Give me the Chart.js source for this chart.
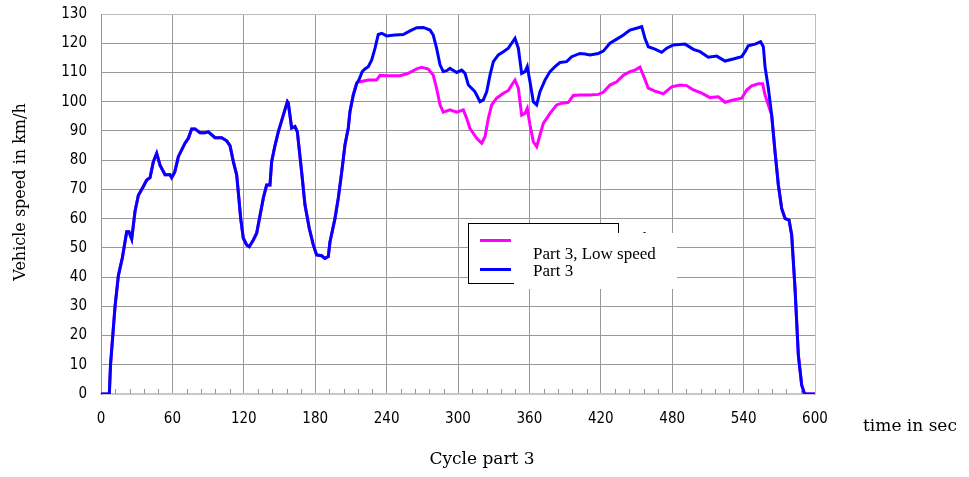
<!DOCTYPE html>
<html>
<head>
<meta charset="utf-8">
<script src="https://cdn.jsdelivr.net/npm/chart.js@4/dist/chart.umd.min.js"></script>
<style>
  html, body { margin: 0; padding: 0; background: #fff; }
  #wrap { width: 969px; height: 477px; }
</style>
</head>
<body>
<div id="wrap"><canvas id="cycleChart" width="969" height="477"></canvas></div>
<script>
// Eixos
const xTicks = [0, 60, 120, 180, 240, 300, 360, 420, 480, 540, 600];
const yTicks = [0, 10, 20, 30, 40, 50, 60, 70, 80, 90, 100, 110, 120, 130];

// Trecho comum às duas curvas (início)
const startTime = [0, 7, 8, 11.8, 14.6, 17.9, 21.6, 23.5, 25.8, 28.6, 31.4, 35.6, 38.4, 41.2, 44, 46.8, 49.6, 53.8, 58, 59.4, 62, 65, 70.6, 73.4, 76.2, 79, 83.2, 87.4, 90.2, 95.8, 101.4, 105.6, 108.4, 111.2, 114, 115.4, 117.4, 119.6, 122.4, 124.6, 128, 130.8, 133.6, 136.4, 139.2, 142, 143.4, 146.2, 149, 153.2, 156.6, 157.4, 160.2, 163, 165, 168.6, 171.4, 175, 178.4, 181.2, 185.4, 188.2, 191, 192.4, 196.6, 199.4, 202.3, 205, 207.8, 209.2, 212, 214.9, 216.5];
const startSpeed = [0, 0, 10, 30, 40.5, 46.5, 55.5, 55.5, 53, 62.5, 68, 71, 73.2, 74, 79.5, 82.3, 78.3, 75, 75, 74, 76, 81.2, 85.8, 87.5, 90.7, 90.7, 89.4, 89.4, 89.7, 87.7, 87.7, 86.6, 85, 79.5, 75, 69, 60, 53.3, 51, 50.4, 52.7, 55, 61, 67, 71.5, 71.5, 79.5, 85, 89.7, 95.4, 100, 99.5, 91, 91.5, 89.7, 76, 64.7, 56.7, 51, 47.6, 47.3, 46.4, 47, 52, 60, 67, 76, 85.2, 91, 96.6, 102.3, 106.3, 107.2];

// Part 3 (azul)
const part3Time = [219.5, 221.8, 224.6, 227.5, 230.3, 233, 235.9, 240, 247, 254, 259.7, 265.3, 270.9, 276.5, 279.2, 282, 284.9, 287.6, 290.5, 293.3, 298.9, 303.1, 305.9, 308.7, 312.9, 314.3, 318.5, 321.3, 324.1, 326.9, 329.7, 333.9, 338.1, 342.3, 345.1, 347.9, 350.7, 353.5, 356.3, 358.2, 360.5, 363.3, 366.1, 368.9, 373.1, 377.3, 381.5, 385.7, 391.3, 395.5, 402.5, 406.7, 410.9, 417.9, 422.1, 427.7, 433.4, 439, 444.5, 451.5, 454.4, 457.1, 459.9, 465.5, 471.2, 475.4, 481, 490.8, 497.8, 503.4, 510.3, 517.4, 524.4, 531.3, 538.4, 541.2, 543.9, 549.6, 554.3, 556.6, 558, 560.8];
const part3Speed = [110.3, 111.2, 112, 114.3, 118.3, 123, 123.4, 122.5, 122.8, 123, 124.2, 125.3, 125.4, 124.5, 122.8, 118.3, 112.6, 110.3, 110.6, 111.4, 110, 110.8, 109.7, 105.7, 104, 103.4, 100, 100.6, 103.4, 109.1, 113.7, 116, 117.1, 118.3, 120, 121.7, 118.3, 109.7, 110.3, 112, 106.8, 100, 98.9, 103.4, 107.4, 110.3, 112, 113.4, 113.7, 115.4, 116.5, 116.3, 116, 116.5, 117.3, 120, 121.4, 122.8, 124.5, 125.3, 125.7, 121.7, 118.8, 118, 116.9, 118.3, 119.4, 119.7, 117.9, 117.1, 115.2, 115.6, 113.9, 114.6, 115.4, 117.1, 119.1, 119.7, 120.5, 118.8, 112, 104.6];

// Part 3, Low speed (magenta)
const lowTime = [217.6, 224.6, 231.6, 234.5, 240, 251.3, 258.2, 265.3, 269.5, 275, 279.2, 282, 284.9, 287.6, 293.3, 298.9, 304.5, 307.3, 310, 315.7, 319.9, 322.7, 325.5, 328.3, 332.5, 338.1, 342.3, 345.1, 347.9, 350.7, 353.5, 356.3, 358.2, 360.5, 363.3, 366.1, 368.9, 371.7, 377.3, 382.9, 387.1, 392.7, 396.9, 402.5, 410.9, 417.9, 422.1, 427.7, 433.4, 439, 444.5, 448.7, 452.9, 455.7, 459.9, 465.5, 472.5, 479.5, 486.5, 492.2, 497.8, 504.8, 511.8, 518.8, 524.4, 531.3, 538.4, 542.6, 546.8, 552.4, 556, 558, 560.8];
const lowSpeed = [106.8, 107.4, 107.4, 109, 108.9, 108.9, 109.7, 111.2, 111.8, 111.2, 109.1, 104.6, 98.9, 96.4, 97.2, 96.4, 97.2, 94.3, 90.9, 87.5, 85.8, 88, 94.3, 98.9, 101.2, 102.9, 103.8, 105.7, 107.4, 104.6, 95.4, 96, 97.7, 92, 86.3, 84.6, 88.6, 92.6, 96, 98.9, 99.5, 99.8, 102.1, 102.3, 102.3, 102.5, 103.2, 105.7, 106.8, 109.1, 110.3, 110.8, 111.8, 109.1, 104.6, 103.6, 102.7, 105.1, 105.7, 105.5, 104, 102.9, 101.4, 101.7, 99.8, 100.6, 101.2, 104, 105.4, 106.1, 106.1, 102.3, 98.9];

// Trecho comum (fim)
const endTime = [563.6, 566.4, 569.2, 572, 574.8, 578.2, 580.4, 583.2, 586, 588.8, 590.8, 591.5, 600];
const endSpeed = [95.4, 82.9, 71.5, 63.5, 60.1, 59.5, 54.4, 36.2, 13.3, 3.1, 0.5, 0, 0];

const toPoints = (times, speeds) => times.map((t, i) => ({ x: t, y: speeds[i] }));

const part3Data = [
    ...toPoints(startTime, startSpeed),
    ...toPoints(part3Time, part3Speed),
    ...toPoints(endTime, endSpeed)
];
const lowData = [
    ...toPoints(startTime, startSpeed),
    ...toPoints(lowTime, lowSpeed),
    ...toPoints(endTime, endSpeed)
];

const serif = '"DejaVu Serif", serif';
const legendFont = '"Liberation Serif", serif';
const tickFont = '"Liberation Sans Narrow", "DejaVu Sans Condensed", "Liberation Sans", sans-serif';

// Títulos, marcas menores e legenda desenhados à mão
const extras = {
    id: 'extras',
    afterDraw(chart) {
        const { ctx, chartArea, scales } = chart;
        const xs = scales.x;
        ctx.save();

        // marcas menores a cada 12 s
        ctx.strokeStyle = '#999';
        ctx.lineWidth = 1;
        for (let t = 12; t < 600; t += 12) {
            if (t % 60 === 0) continue;
            const px = Math.round(xs.getPixelForValue(t)) + 0.5;
            ctx.beginPath();
            ctx.moveTo(px, chartArea.bottom);
            ctx.lineTo(px, chartArea.bottom - 5);
            ctx.stroke();
        }

        // títulos dos eixos
        ctx.fillStyle = '#000';
        ctx.font = '17px ' + serif;
        ctx.textBaseline = 'middle';
        ctx.textAlign = 'left';
        ctx.fillText('time in sec', 863, 427);
        ctx.textAlign = 'center';
        ctx.fillText('Cycle part 3', 482, 460);
        ctx.save();
        ctx.font = '16px ' + serif;
        ctx.translate(21, 192);
        ctx.rotate(-Math.PI / 2);
        ctx.fillText('Vehicle speed in km/h', 0, 0);
        ctx.restore();

        // legenda
        ctx.fillStyle = '#fff';
        ctx.fillRect(468, 223, 150, 60);
        ctx.strokeStyle = '#000';
        ctx.lineWidth = 1;
        ctx.strokeRect(468.5, 223.5, 150, 60);
        ctx.font = '17px ' + legendFont;
        ctx.textAlign = 'left';
        ctx.textBaseline = 'alphabetic';
        ctx.fillStyle = '#000';
        ctx.fillText('Part 3, Low speed', 524, 244);

        ctx.lineWidth = 3;
        ctx.strokeStyle = '#ff00ff';
        ctx.beginPath();
        ctx.moveTo(480, 240.5);
        ctx.lineTo(511, 240.5);
        ctx.stroke();
        ctx.strokeStyle = '#0000ff';
        ctx.beginPath();
        ctx.moveTo(480, 269.5);
        ctx.lineTo(511, 269.5);
        ctx.stroke();

        ctx.fillStyle = '#fff';
        ctx.fillRect(514, 233, 163, 56);
        ctx.fillStyle = '#000';
        ctx.fillText('Part 3, Low speed', 533, 259);
        ctx.fillText('Part 3', 533, 276);

        ctx.restore();
    }
};

document.addEventListener('DOMContentLoaded', () => {
    const canvas = document.getElementById('cycleChart');

    new Chart(canvas, {
        type: 'line',
        data: {
            datasets: [
                {
                    label: 'Part 3, Low speed',
                    data: lowData,
                    borderColor: '#ff00ff',
                    borderWidth: 3,
                    pointRadius: 0,
                    tension: 0,
                    order: 1
                },
                {
                    label: 'Part 3',
                    data: part3Data,
                    borderColor: '#0000ff',
                    borderWidth: 3,
                    pointRadius: 0,
                    tension: 0,
                    order: 0
                }
            ]
        },
        options: {
            responsive: false,
            animation: false,
            devicePixelRatio: 1,
            layout: { padding: { left: 0, right: 154, top: 14, bottom: 0 } },
            plugins: {
                legend: { display: false },
                tooltip: { enabled: false }
            },
            scales: {
                x: {
                    type: 'linear',
                    min: 0,
                    max: 600,
                    afterFit: (scale) => {
                        scale.height = 83;
                        scale.paddingLeft = 0;
                        scale.paddingRight = 0;
                    },
                    afterBuildTicks: (scale) => { scale.ticks = xTicks.map(v => ({ value: v })); },
                    ticks: {
                        color: '#000',
                        font: { family: tickFont, size: 15 },
                        padding: 16,
                        maxRotation: 0,
                        autoSkip: false
                    },
                    grid: {
                        drawTicks: false,
                        color: (c) => c.tick && c.tick.value === 600 ? '#bdbdbd' : '#999',
                        lineWidth: 1
                    },
                    border: { color: '#c8c8c8', width: 2 }
                },
                y: {
                    min: 0,
                    max: 130,
                    afterFit: (scale) => {
                        scale.width = 101;
                        scale.paddingTop = 0;
                        scale.paddingBottom = 0;
                    },
                    afterBuildTicks: (scale) => { scale.ticks = yTicks.map(v => ({ value: v })); },
                    ticks: {
                        color: '#000',
                        font: { family: tickFont, size: 15 },
                        padding: 14,
                        autoSkip: false
                    },
                    grid: {
                        drawTicks: false,
                        color: (c) => c.tick && c.tick.value === 130 ? '#bdbdbd' : '#999',
                        lineWidth: 1
                    },
                    border: { color: '#999', width: 1 }
                }
            }
        },
        plugins: [extras]
    });
});
</script>
</body>
</html>
